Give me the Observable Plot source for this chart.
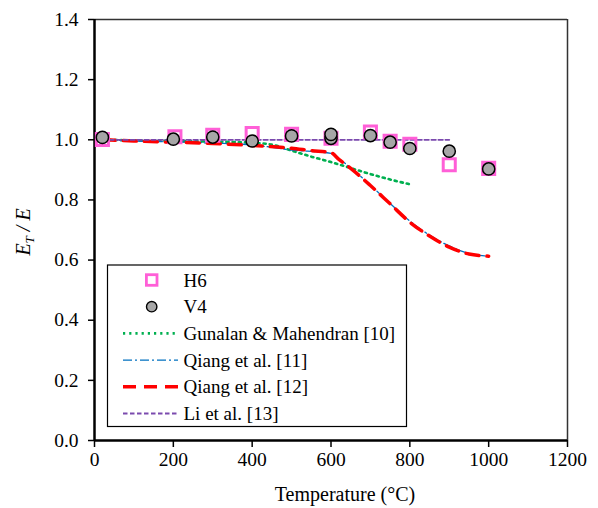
<!DOCTYPE html>
<html>
<head>
<meta charset="utf-8">
<script src="https://cdn.jsdelivr.net/npm/d3@7"></script>
<script src="https://cdn.jsdelivr.net/npm/@observablehq/plot@0.6"></script>
<style>
  html, body { margin: 0; padding: 0; background: white; }
</style>
</head>
<body>
<div id="chart"></div>
<script>
// ---- data ----
const xTicks = [0, 200, 400, 600, 800, 1000, 1200];
const yTicks = [0, 0.2, 0.4, 0.6, 0.8, 1.0, 1.2, 1.4];

const h6Temp  = [20, 204, 300, 400, 500, 600, 700, 750, 800, 900, 1000];
const h6Ratio = [1.001, 1.010, 1.015, 1.021, 1.018, 1.005, 1.026, 0.995, 0.985, 0.917, 0.905];

const v4Temp  = [20, 200, 300, 400, 500, 600, 600, 700, 750, 800, 900, 1000];
const v4Ratio = [1.008, 1.002, 1.009, 0.996, 1.013, 1.005, 1.018, 1.014, 0.992, 0.971, 0.962, 0.903];

const gunTemp  = [20, 100, 200, 300, 400, 450, 500, 550, 600, 650, 700, 750, 800];
const gunRatio = [1.000, 0.998, 0.996, 0.994, 0.990, 0.984, 0.964, 0.944, 0.926, 0.906, 0.886, 0.868, 0.852];

const q11Temp  = [20, 100, 200, 300, 400, 500, 600, 620, 650, 700, 750, 800, 850, 900, 950, 1000];
const q11Ratio = [1.000, 0.996, 0.993, 0.989, 0.983, 0.966, 0.955, 0.937, 0.907, 0.849, 0.788, 0.730, 0.683, 0.647, 0.622, 0.613];

const q12Temp  = [20, 100, 200, 300, 400, 500, 550, 600, 620, 650, 700, 750, 800, 850, 900, 950, 1000];
const q12Ratio = [1.000, 0.996, 0.992, 0.988, 0.981, 0.972, 0.964, 0.957, 0.935, 0.905, 0.848, 0.787, 0.726, 0.680, 0.643, 0.620, 0.613];

const liTemp  = [20, 900];
const liRatio = [1.0, 1.0];

const legendLabels = ["H6", "V4", "Gunalan & Mahendran [10]", "Qiang et al. [11]", "Qiang et al. [12]", "Li et al. [13]"];

const zip = (xs, ys) => xs.map((x, i) => ({x, y: ys[i]}));

const C = {
  h6: "#FF5FD7",
  v4fill: "#A6A6A6",
  gun: "#00B050",
  q11: "#0070C0",
  q12: "#FF0000",
  li: "#7B4AAE"
};

const font = "'Times New Roman', 'Liberation Serif', serif";

const chart = Plot.plot({
  width: 598,
  height: 508,
  marginLeft: 94,
  marginRight: 31,
  marginTop: 19,
  marginBottom: 68,
  x: {domain: [0, 1200]},
  y: {domain: [0, 1.4]},
  style: {fontFamily: font, fontSize: "19.5px", background: "white", color: "black"},
  marks: [
    Plot.axisX({ticks: xTicks, tickSize: 7, tickPadding: 5, tickFormat: d3.format("d"), label: null, strokeWidth: 1.5, fontSize: 19.5}),
    Plot.axisY({ticks: yTicks, tickSize: 6, tickPadding: 10, tickFormat: d3.format(".1f"), label: null, strokeWidth: 1.5, fontSize: 19.5}),
    Plot.ruleY([1.4], {stroke: "#333", strokeWidth: 1.5}),
    Plot.ruleX([1200], {stroke: "#333", strokeWidth: 1.5}),
    Plot.ruleX([0], {stroke: "black", strokeWidth: 2.5}),
    Plot.ruleY([0], {stroke: "black", strokeWidth: 2.5}),
    Plot.line(zip(gunTemp, gunRatio), {x: "x", y: "y", stroke: C.gun, strokeWidth: 2.6, strokeDasharray: "2.2,4", curve: "monotone-x"}),
    Plot.line(zip(q11Temp, q11Ratio), {x: "x", y: "y", stroke: C.q11, strokeWidth: 1.3, strokeDasharray: "9,3,2,3", curve: "monotone-x"}),
    Plot.line(zip(q12Temp, q12Ratio), {x: "x", y: "y", stroke: C.q12, strokeWidth: 3.5, strokeDasharray: "13,8", curve: "monotone-x"}),
    Plot.line(zip(liTemp, liRatio), {x: "x", y: "y", stroke: C.li, strokeWidth: 1.8, strokeDasharray: "4.5,2.5"}),
    Plot.dot(zip(h6Temp, h6Ratio), {x: "x", y: "y", symbol: "square", r: 6.8, stroke: C.h6, strokeWidth: 3, fill: "none"}),
    Plot.dot(zip(v4Temp, v4Ratio), {x: "x", y: "y", symbol: "circle", r: 6.1, stroke: "black", strokeWidth: 1.5, fill: C.v4fill})
  ]
});

const svg = d3.select(chart);

// axis titles
svg.append("text")
  .attr("x", 345).attr("y", 501)
  .attr("text-anchor", "middle")
  .style("font-family", font).style("font-size", "20px")
  .attr("fill", "black")
  .text("Temperature (°C)");

const yt = svg.append("text")
  .attr("transform", "translate(30,232) rotate(-90)")
  .attr("text-anchor", "middle")
  .style("font-family", font).style("font-size", "20px")
  .style("font-style", "italic")
  .attr("fill", "black");
yt.append("tspan").text("E");
yt.append("tspan").style("font-size", "13px").attr("dy", 4).text("T");
yt.append("tspan").attr("dy", -4).text(" / E");

// legend
const lg = svg.append("g");
lg.append("rect")
  .attr("x", 107.5).attr("y", 265).attr("width", 299).attr("height", 161.5)
  .attr("fill", "white").attr("stroke", "black").attr("stroke-width", 1.2);

const rowY = i => 280 + i * 26.7;
const sx0 = 123, sx1 = 178, tx = 183.5;

lg.append("rect").attr("x", 151.7 - 5.3).attr("y", rowY(0) - 5.3).attr("width", 10.6).attr("height", 10.6)
  .attr("fill", "none").attr("stroke", C.h6).attr("stroke-width", 2.8);
lg.append("circle").attr("cx", 151.7).attr("cy", rowY(1)).attr("r", 5.2)
  .attr("fill", C.v4fill).attr("stroke", "black").attr("stroke-width", 1.4);

const lineStyles = [
  {stroke: C.gun, w: 2.6, dash: "2.2,4"},
  {stroke: C.q11, w: 1.3, dash: "9,3,2,3"},
  {stroke: C.q12, w: 3.5, dash: "13,8"},
  {stroke: C.li, w: 1.8, dash: "4.5,2.5"}
];
lineStyles.forEach((s, k) => {
  lg.append("line").attr("x1", sx0).attr("x2", sx1).attr("y1", rowY(k + 2)).attr("y2", rowY(k + 2))
    .attr("stroke", s.stroke).attr("stroke-width", s.w).attr("stroke-dasharray", s.dash);
});
legendLabels.forEach((t, i) => {
  lg.append("text").attr("x", tx).attr("y", rowY(i) + 6.5)
    .attr("text-anchor", "start")
    .style("font-family", font).style("font-size", "19px").attr("fill", "black").text(t);
});

document.getElementById("chart").appendChild(chart);
</script>
</body>
</html>
